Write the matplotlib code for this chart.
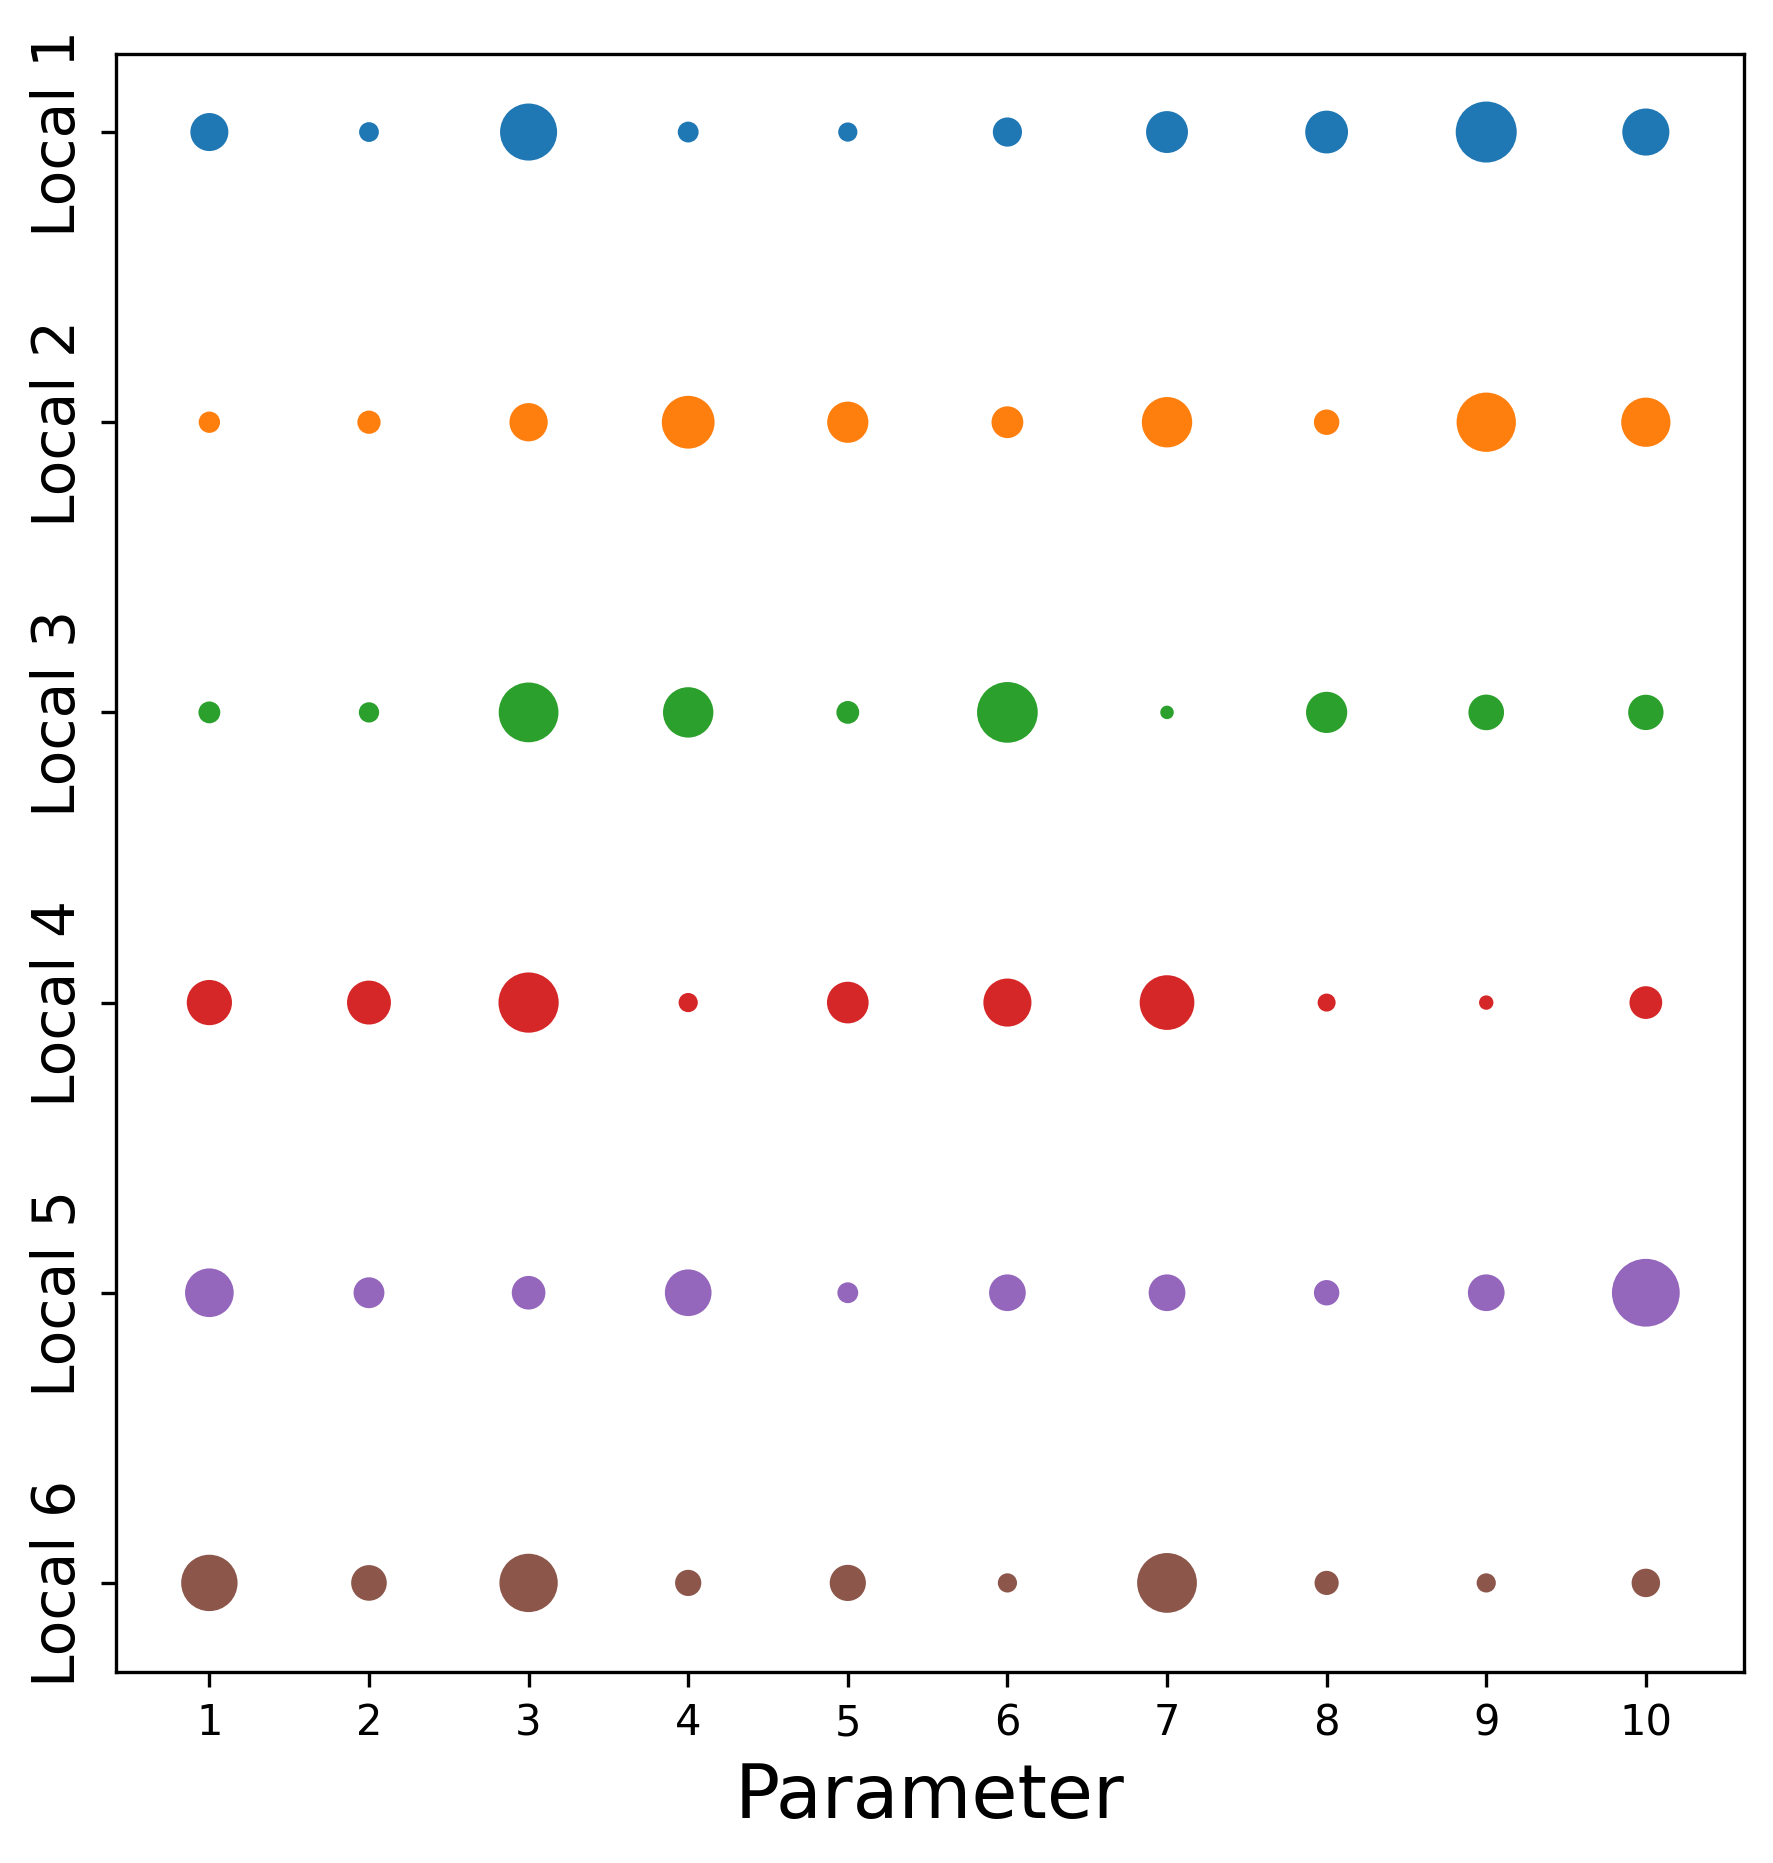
import matplotlib
matplotlib.use("Agg")
import matplotlib.pyplot as plt

parameters = [1, 2, 3, 4, 5, 6, 7, 8, 9, 10]
locals_ = ["Local 1", "Local 2", "Local 3", "Local 4", "Local 5", "Local 6"]

size_local1 = [66, 14, 161, 16, 13, 36, 82, 86, 186, 106]
size_local2 = [17, 21, 67, 136, 79, 44, 123, 26, 175, 117]
size_local3 = [18, 15, 178, 123, 20, 184, 5, 79, 57, 56]
size_local4 = [97, 91, 181, 13, 81, 111, 147, 11, 6, 47]
size_local5 = [114, 41, 50, 104, 16, 61, 61, 26, 61, 233]
size_local6 = [157, 57, 169, 28, 59, 13, 178, 23, 13, 34]

sizes = [size_local1, size_local2, size_local3, size_local4, size_local5, size_local6]
colors = ["#1f77b4", "#ff7f0e", "#2ca02c", "#d62728", "#9467bd", "#8c564b"]

fig = plt.figure(figsize=(1773 / 300, 1864 / 300), dpi=300)
ax = fig.add_axes([116 / 1773, 1 - 1673 / 1864, (1744 - 116) / 1773, (1673 - 54.7) / 1864])

for i, (lab, s, c) in enumerate(zip(locals_, sizes, colors)):
    ax.scatter(parameters, [i] * len(parameters), s=s, color=c)

ax.set_xlim(0.415, 10.615)
ax.set_ylim(5.307, -0.27)
ax.set_xticks(parameters)
ax.set_xticklabels([str(p) for p in parameters], fontsize=10)
ax.set_yticks(range(len(locals_)))
ax.set_yticklabels(locals_, rotation=90, va="center", fontsize=14)
ax.set_xlabel("Parameter", fontsize=18)

fig.savefig("out.png", dpi=300)
